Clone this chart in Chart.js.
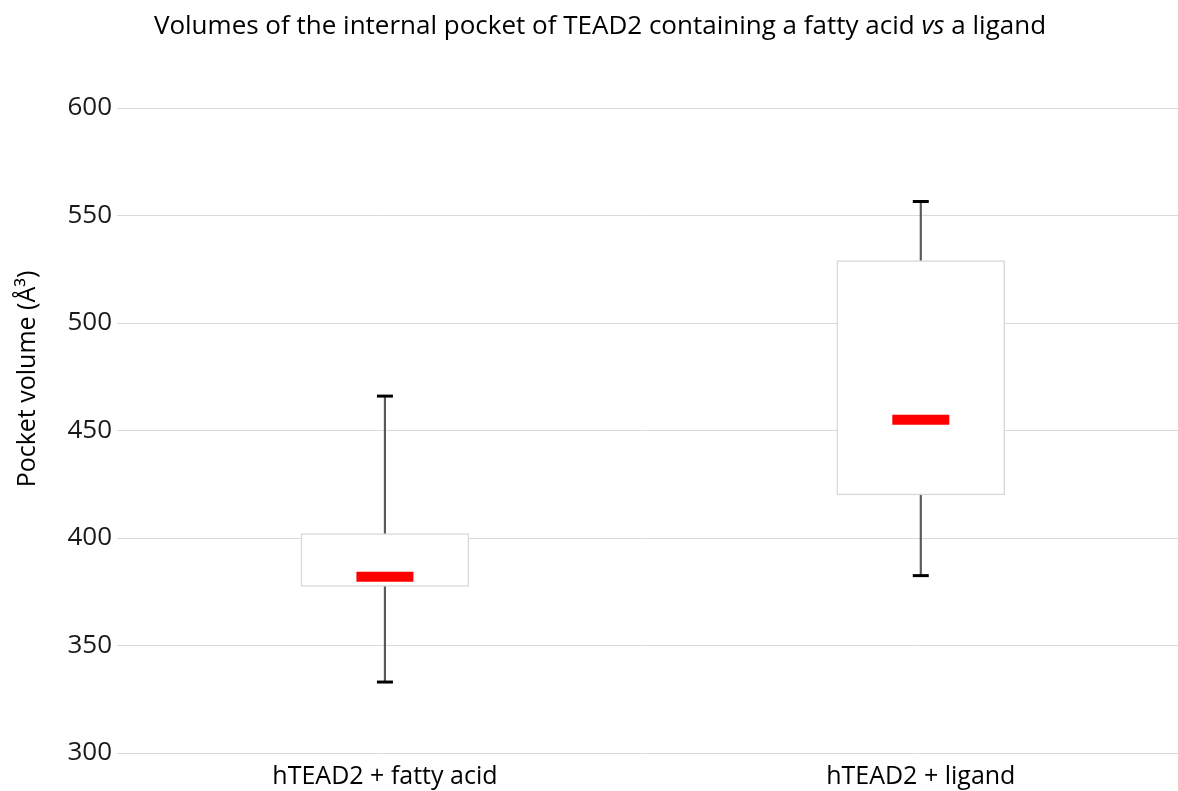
<!DOCTYPE html>
<html>
<head>
<meta charset="utf-8">
<script src="https://cdn.jsdelivr.net/npm/chart.js@4/dist/chart.umd.min.js"></script>
<style>
  html, body { margin: 0; padding: 0; background: #fff; overflow: hidden; }
  #wrap { position: relative; width: 1178px; height: 791px; overflow: hidden; }
  #title {
    position: absolute; left: 0; top: 11px; width: 1200px; text-align: center;
    font-family: "Open Sans", sans-serif; font-size: 26px; line-height: 26px; color: #000;
    white-space: nowrap;
  }
  #ytitle {
    position: absolute; left: 25px; top: 379px; width: 300px; height: 30px;
    margin-left: -150px; margin-top: -15px; text-align: center;
    transform: rotate(-90deg);
    font-family: "Open Sans", sans-serif; font-size: 25px; line-height: 30px; color: #000;
    white-space: nowrap;
  }
  canvas { position: absolute; left: 0; top: 0; }
</style>
</head>
<body>
<div id="wrap">
  <canvas id="myChart" width="1178" height="791"></canvas>
  <div id="title">Volumes of the internal pocket of TEAD2 containing a fatty acid <i>vs</i> a ligand</div>
  <div id="ytitle">Pocket volume (Å³)</div>
</div>
<script>
var categories = ["hTEAD2 + fatty acid", "hTEAD2 + ligand"];
var whiskerMin = [333, 382.5];
var q1 = [377.5, 420];
var median = [382, 455];
var q3 = [402, 529];
var whiskerMax = [466, 556.5];
var yTicks = [300, 350, 400, 450, 500, 550, 600];

function renderChart () {
    var ctx = document.getElementById("myChart").getContext('2d');

    var boxes = [], whiskers = [], caps = [], medians = [];
    categories.forEach(function (c, i) {
        boxes.push({ x: i, y: [q1[i], q3[i]] });
        whiskers.push({ x: i, y: [whiskerMin[i], whiskerMax[i]] });
        caps.push({ x: i, y: whiskerMin[i] });
        caps.push({ x: i, y: whiskerMax[i] });
        medians.push({ x: i, y: median[i] });
    });

    var myChart = new Chart(ctx, {
        type: 'bar',
        data: {
            datasets: [{
                label: 'whiskers',
                data: whiskers,
                backgroundColor: '#595959',
                barThickness: 1.5,
                grouped: false,
                order: 4
            }, {
                label: 'box',
                data: boxes,
                backgroundColor: '#ffffff',
                borderColor: '#d9d9d9',
                borderWidth: 1.5,
                borderSkipped: false,
                barThickness: 168,
                grouped: false,
                order: 3
            }, {
                type: 'scatter',
                label: 'caps',
                data: caps,
                pointStyle: 'line',
                pointRadius: 8,
                pointHoverRadius: 8,
                borderColor: '#000000',
                borderWidth: 3,
                order: 2
            }, {
                type: 'scatter',
                label: 'median',
                data: medians,
                pointStyle: 'line',
                pointRadius: 28.5,
                pointHoverRadius: 28.5,
                borderColor: '#ff0000',
                borderWidth: 10,
                order: 1
            }]
        },
        options: {
            responsive: false,
            animation: false,
            layout: { autoPadding: false, padding: { top: 108, right: 0, left: 0, bottom: 0 } },
            plugins: {
                legend: { display: false },
                tooltip: { enabled: false }
            },
            scales: {
                x: {
                    type: 'linear',
                    offset: false,
                    min: -0.5,
                    max: 1.48,
                    grid: { display: false },
                    border: { display: false },
                    afterBuildTicks: function (axis) {
                        axis.ticks = categories.map(function (c, i) { return { value: i }; });
                    },
                    afterFit: function (axis) {
                        axis.height = 38;
                        axis.paddingLeft = 0;
                        axis.paddingRight = 0;
                    },
                    ticks: {
                        padding: 1,
                        autoSkip: false,
                        maxRotation: 0,
                        color: '#000',
                        font: { family: 'Open Sans', size: 25 },
                        callback: function (v) { return categories[v]; }
                    }
                },
                y: {
                    min: 300,
                    max: 600,
                    afterBuildTicks: function (axis) {
                        axis.ticks = yTicks.map(function (v) { return { value: v }; });
                    },
                    afterFit: function (axis) { axis.width = 117; },
                    grid: { color: '#d9d9d9', lineWidth: 1, drawTicks: false },
                    border: { display: false },
                    ticks: {
                        padding: 5,
                        color: '#1a1a1a',
                        font: { family: 'Open Sans', size: 26 }
                    }
                }
            }
        }
    });
    return myChart;
}

renderChart();
</script>
</body>
</html>
